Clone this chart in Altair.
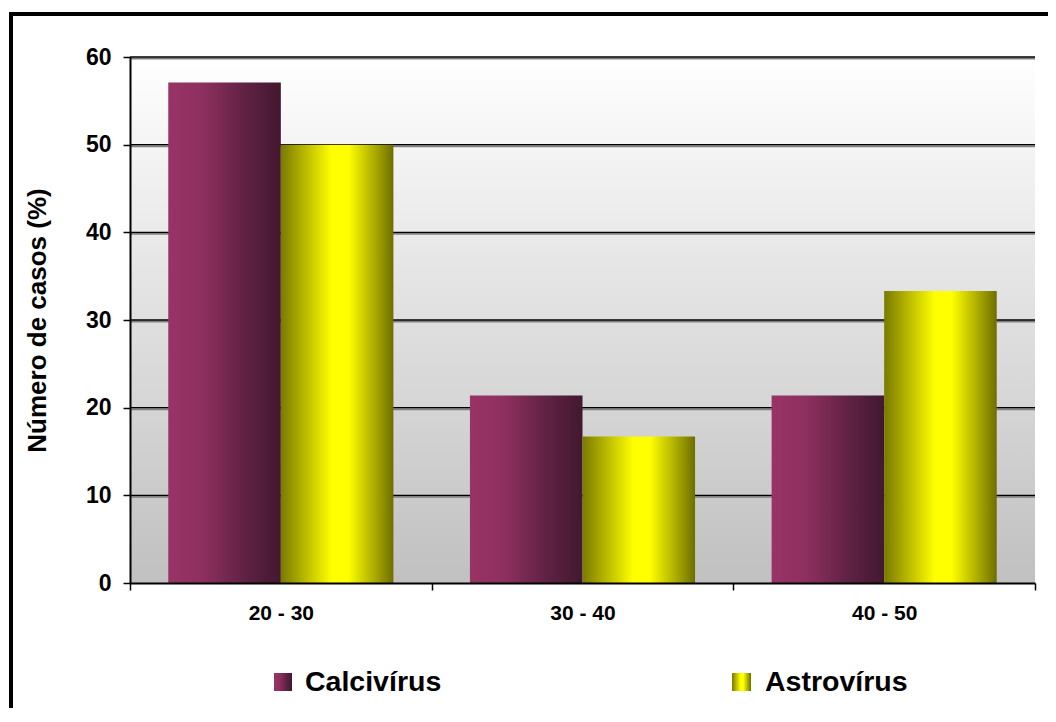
import altair as alt
import pandas as pd

# ---- data ----
categories = ["20 - 30", "30 - 40", "40 - 50"]
series = ["Calcivírus", "Astrovírus"]
calcivirus = [57.1, 21.4, 21.4]
astrovirus = [50.0, 16.7, 33.3]
y_ticks = [0, 10, 20, 30, 40, 50, 60]

rows = []
for c, v in zip(categories, calcivirus):
    rows.append({"cat": c, "series": series[0], "value": v})
for c, v in zip(categories, astrovirus):
    rows.append({"cat": c, "series": series[1], "value": v})
df = pd.DataFrame(rows)
grid_df = pd.DataFrame({"value": [t for t in y_ticks if t > 0]})

W, H = 905, 526
FONT = "Liberation Sans"

grad_calci = {
    "gradient": "linear", "x1": 0, "x2": 1, "y1": 0, "y2": 0,
    "stops": [
        {"offset": 0, "color": "#993366"},
        {"offset": 0.3, "color": "#8e305f"},
        {"offset": 0.7, "color": "#5e2142"},
        {"offset": 1, "color": "#421830"},
    ],
}
grad_astro = {
    "gradient": "linear", "x1": 0, "x2": 1, "y1": 0, "y2": 0,
    "stops": [
        {"offset": 0, "color": "#7a7a00"},
        {"offset": 0.45, "color": "#ffff00"},
        {"offset": 0.6, "color": "#ffff00"},
        {"offset": 1, "color": "#6e6e00"},
    ],
}
grad_bg = {
    "gradient": "linear", "x1": 0, "x2": 0, "y1": 0, "y2": 1,
    "stops": [
        {"offset": 0, "color": "#ffffff"},
        {"offset": 1, "color": "#c0c0c0"},
    ],
}

yscale = alt.Scale(domain=[0, 60], nice=False)
yaxis = alt.Axis(
    values=y_ticks, title="Número de casos (%)", grid=False, zindex=1,
    titleFont=FONT, titleFontSize=26, titleFontWeight="bold", titleColor="black",
    titleAngle=270, titleX=-93, titleY=H / 2, titleAlign="center", titleBaseline="middle",
    labelFont=FONT, labelFontSize=23, labelFontWeight="bold", labelColor="black",
    labelPadding=12, tickSize=7, tickColor="black", tickWidth=1.5,
    domainColor="black", domainWidth=2,
)
xscale = alt.Scale(domain=categories, paddingInner=0, paddingOuter=0)
xaxis = alt.Axis(
    title=None, labelAngle=0, grid=False, zindex=1, tickBand="extent",
    labelFont=FONT, labelFontSize=21, labelFontWeight="bold", labelColor="black",
    labelPadding=12, tickSize=7, tickColor="black", tickWidth=1.5,
    domainColor="black", domainWidth=2,
)
y_enc = alt.Y("value:Q", scale=yscale, axis=yaxis)
x_enc = alt.X("cat:N", scale=xscale, axis=xaxis)
xoff = alt.XOffset("series:N", scale=alt.Scale(domain=series, paddingInner=0, paddingOuter=0.34))

one = alt.Data(values=[{}])

background = alt.Chart(one).mark_rect(fill=grad_bg).encode(
    x=alt.value(0), x2=alt.value(W), y=alt.value(0), y2=alt.value(H)
)
grid_shadow = alt.Chart(grid_df).mark_rule(color="#808080", strokeWidth=2, yOffset=1.5).encode(y=y_enc)
grid_line = alt.Chart(grid_df).mark_rule(color="black", strokeWidth=1.3).encode(y=y_enc)

bars_c = alt.Chart(df).transform_filter(alt.datum.series == series[0]).mark_bar(
    fill=grad_calci
).encode(x=x_enc, xOffset=xoff, y=y_enc)
bars_a = alt.Chart(df).transform_filter(alt.datum.series == series[1]).mark_bar(
    fill=grad_astro
).encode(x=x_enc, xOffset=xoff, y=y_enc)

leg_c_df = pd.DataFrame({"series": [series[0]]})
leg_a_df = pd.DataFrame({"series": [series[1]]})
sw_c = alt.Chart(leg_c_df).mark_rect(fill=grad_calci).encode(
    x=alt.value(144), x2=alt.value(162), y=alt.value(616), y2=alt.value(634)
)
tx_c = alt.Chart(leg_c_df).mark_text(
    font=FONT, fontSize=28.5, fontWeight="bold", color="black", align="left", baseline="alphabetic"
).encode(text="series:N", x=alt.value(175), y=alt.value(634))
sw_a = alt.Chart(leg_a_df).mark_rect(fill=grad_astro).encode(
    x=alt.value(602), x2=alt.value(621), y=alt.value(616), y2=alt.value(634)
)
tx_a = alt.Chart(leg_a_df).mark_text(
    font=FONT, fontSize=28.5, fontWeight="bold", color="black", align="left", baseline="alphabetic"
).encode(text="series:N", x=alt.value(635), y=alt.value(634))

frame = alt.Chart(one).mark_rect(fillOpacity=0, stroke="black", strokeWidth=4).encode(
    x=alt.value(-119), x2=alt.value(W + 60), y=alt.value(-43), y2=alt.value(H + 300)
)

chart = alt.layer(
    background, grid_shadow, grid_line, bars_c, bars_a, sw_c, tx_c, sw_a, tx_a, frame
).properties(
    width=W, height=H,
    autosize=alt.AutoSizeParams(type="none"),
    padding={"left": 122, "top": 49, "right": 13, "bottom": 125},
    background="white",
).configure_view(stroke=None)

chart.save("out.html", embed_options={"renderer": "svg", "actions": False})
